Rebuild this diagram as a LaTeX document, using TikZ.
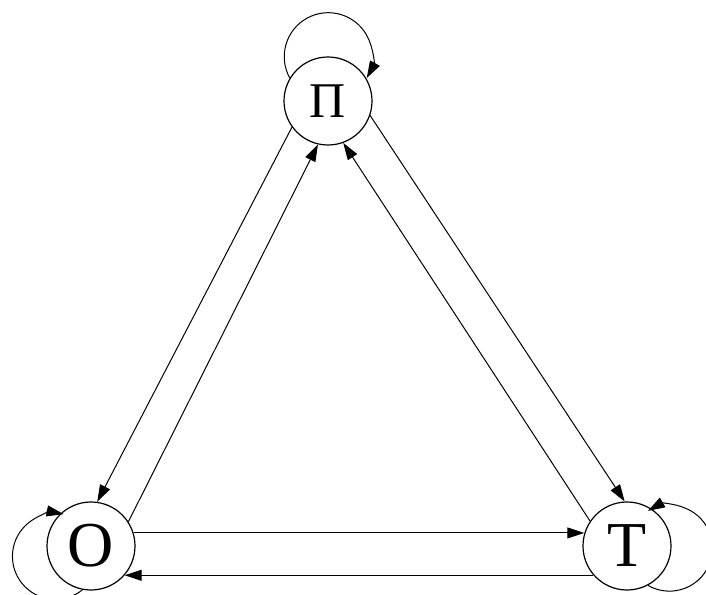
\documentclass[tikz,border=0pt]{standalone}
\usepackage{fontspec}
\setmainfont{Liberation Serif}
\usetikzlibrary{arrows.meta}
\tikzset{
  state/.style={circle,draw,line width=1.2pt,minimum size=88pt,inner sep=0pt,font=\fontsize{64}{64}\selectfont},
  edge/.style={line width=1pt,-{Triangle[length=17pt,width=11pt]}}
}
\begin{document}
\begin{tikzpicture}[x=1pt,y=1pt]
\useasboundingbox (0,0) rectangle (706,594);
\node[state,font=\fontsize{50}{50}\selectfont] (P) at (328,493) {Π};
\node[state] (O) at (91,48) {O};
\node[state] (T) at (627,48) {T};
% cross edges
\draw[edge] (P.216) -- (O.82);
\draw[edge] (O.33) -- (P.257);
\draw[edge] (P.341) -- (T.93);
\draw[edge] (T.146) -- (P.290);
\draw[edge] (O.17) -- (T.163);
\draw[edge] (T.221) -- (O.319);
% loops
\draw[edge] (P.149) arc[start angle=209,end angle=-29,radius=44];
\draw[edge] (O.259) arc[start angle=309,end angle=79,radius=43];
\draw[edge] (T.298) arc[start angle=240,end angle=480,radius=43];
\end{tikzpicture}
\end{document}
